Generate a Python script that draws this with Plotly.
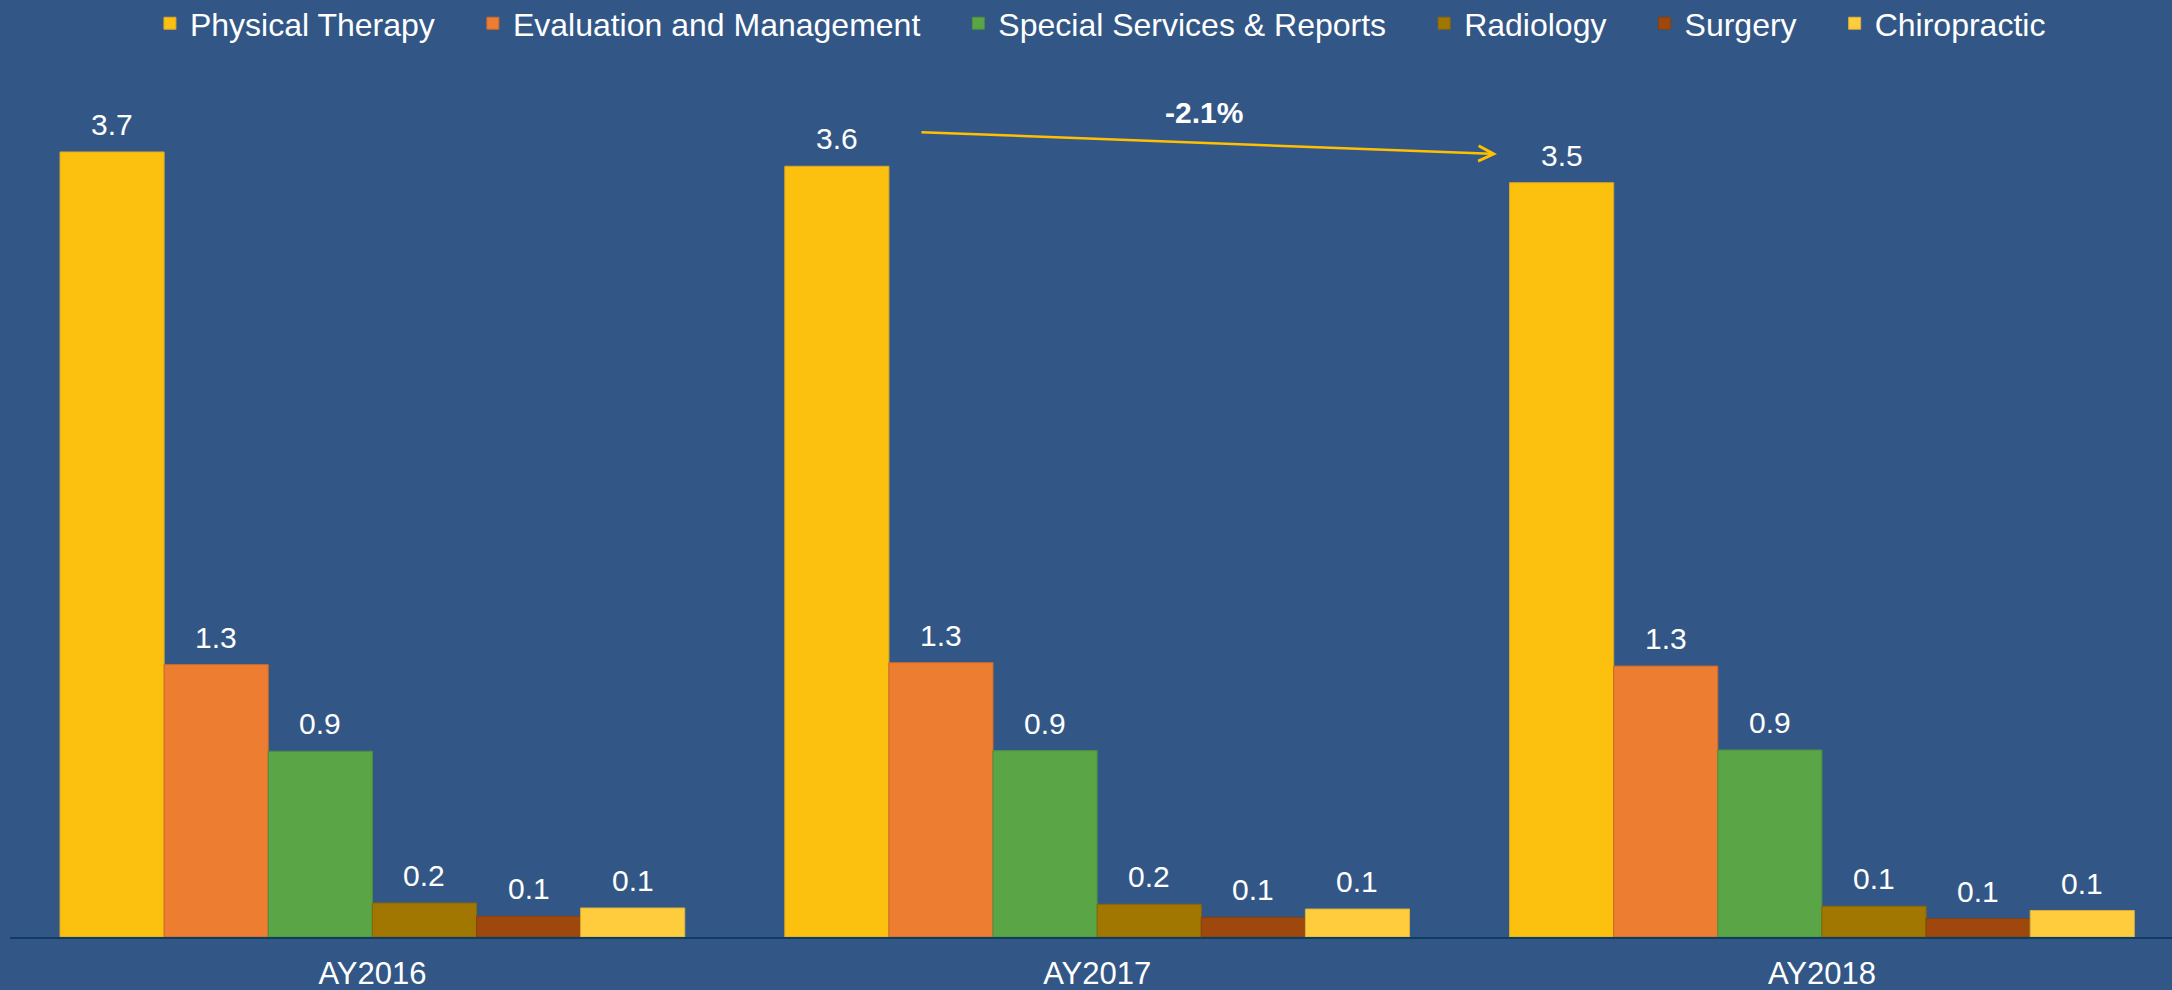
import plotly.graph_objects as go

# Accident years on the category axis
years = ["AY2016", "AY2017", "AY2018"]

# Average visits per claim, by service type
physical_therapy = [3.677, 3.610, 3.533]
evaluation_mgmt = [1.276, 1.285, 1.269]
special_services = [0.870, 0.873, 0.876]
radiology = [0.159, 0.153, 0.144]
surgery = [0.097, 0.092, 0.086]
chiropractic = [0.136, 0.131, 0.124]

series_names = [
    "Physical Therapy",
    "Evaluation and Management",
    "Special Services & Reports",
    "Radiology",
    "Surgery",
    "Chiropractic",
]
series_values = [
    physical_therapy,
    evaluation_mgmt,
    special_services,
    radiology,
    surgery,
    chiropractic,
]
colors = ["#FCC00F", "#ED7D31", "#5AA546", "#A27701", "#9E480E", "#FECC3D"]
edges = ["#D9A62A", "#C96A2C", "#4E8F3E", "#8A6608", "#86400F", "#D9B03A"]

BG = "#325786"
BAR_GAP = 0.138
N = len(series_names)
bar_w = (1 - BAR_GAP) / N
pad = "\u00a0" * 3 + "\u2009"
FONT = "Liberation Sans, Arial"

fig = go.Figure()
for name, vals, c, e in zip(series_names, series_values, colors, edges):
    fig.add_trace(
        go.Bar(
            x=years,
            y=vals,
            name=name + pad,
            marker=dict(color=c, line=dict(color=e, width=1)),
            hovertemplate="%{x}: %{y:.2f}<extra>" + name + "</extra>",
        )
    )

# Value labels above each bar
annotations = []
for j, vals in enumerate(series_values):
    for i, v in enumerate(vals):
        xpos = i - (1 - BAR_GAP) / 2 + bar_w * (j + 0.5)
        annotations.append(
            dict(
                x=xpos,
                y=v,
                xref="x",
                yref="y",
                text=f"{v:.1f}",
                showarrow=False,
                yanchor="bottom",
                yshift=9,
                font=dict(family=FONT, size=30, color="white"),
            )
        )

# Year-over-year change in physical therapy visits
pt_change = (physical_therapy[2] / physical_therapy[1] - 1) * 100
annotations.append(
    dict(
        x=1.5516,
        y=3.667,
        ax=0.7555,
        ay=3.770,
        xref="x",
        yref="y",
        axref="x",
        ayref="y",
        text="",
        showarrow=True,
        arrowhead=5,
        arrowsize=1.2,
        arrowwidth=2.5,
        arrowcolor="#FFC000",
    )
)
annotations.append(
    dict(
        x=1.147,
        y=3.864,
        xref="x",
        yref="y",
        text=f"<b>{pt_change:.1f}%</b>",
        showarrow=False,
        font=dict(family=FONT, size=30, color="white"),
    )
)

fig.update_layout(
    width=2172,
    height=990,
    paper_bgcolor=BG,
    plot_bgcolor=BG,
    barmode="group",
    bargap=BAR_GAP,
    bargroupgap=0,
    margin=dict(l=10, r=0, t=80, b=53, autoexpand=False),
    font=dict(family=FONT, size=31, color="white"),
    legend=dict(
        orientation="h",
        x=0.512,
        xanchor="center",
        y=1.066,
        yanchor="middle",
        font=dict(size=32, color="white"),
        bgcolor="rgba(0,0,0,0)",
    ),
    xaxis=dict(
        type="category",
        range=[-0.5, 2.483],
        showgrid=False,
        showline=True,
        linecolor="#0E3D62",
        linewidth=2,
        ticks="",
        ticklabelstandoff=8,
        tickfont=dict(size=31, color="white"),
        automargin=False,
        fixedrange=True,
    ),
    yaxis=dict(
        range=[0, 4.014],
        showgrid=False,
        zeroline=False,
        showticklabels=False,
        ticks="",
        automargin=False,
        fixedrange=True,
    ),
    annotations=annotations,
    showlegend=True,
)

fig.write_html("out.html")
